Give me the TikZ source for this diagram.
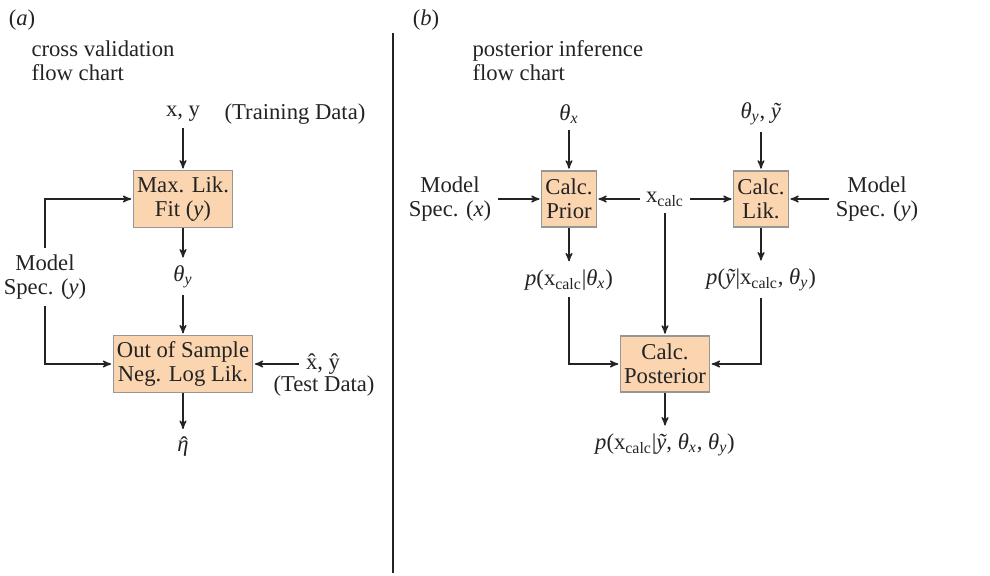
\documentclass[tikz,border=0pt]{standalone}
\usepackage{fontspec}
\setmainfont{Liberation Serif}
\usepackage{tikz}
\usetikzlibrary{arrows,positioning}

\definecolor{boxfill}{RGB}{250,213,176}
\definecolor{boxline}{RGB}{150,150,150}
\definecolor{ink}{RGB}{35,35,35}

\newcommand{\thX}{\textit{θ}\textsubscript{\textit{x}}}
\newcommand{\thY}{\textit{θ}\textsubscript{\textit{y}}}
\newcommand{\ytil}{\textit{ỹ}}
\newcommand{\xcalc}{x\textsubscript{calc}}
\newcommand{\etahat}{\rlap{\hspace{0.13em}\raisebox{-0.1ex}{ˆ}}\textit{η}}

\begin{document}
\begin{tikzpicture}[
		x=0.02cm, y=-0.02cm,
		->,
		>=stealth',
		shorten >=1pt,
		line width=0.75pt,
		color=ink,
		font=\fontsize{12.9}{13.7}\selectfont,
		box/.style={draw=boxline, fill=boxfill, align=center, minimum height=1.12cm, inner xsep=2pt, line width=0.6pt},
		txt/.style={align=center}
	]
	\useasboundingbox (0,0) rectangle (990,575);

	% (a) cross validation
	\node[txt] (la) at (22,20) {(\textit{a})};
	\node[txt, anchor=west, align=left] (ta) at (25,61) {cross validation\\flow chart};

	\node[txt] (xy) 	at (183,114) 	{x, y};
	\node[txt] (trn) 	at (295,114) 	{(Training Data)};
	\node[box, minimum width=1.98cm] (fit) 	at (183,199) 	{Max. Lik.\\Fit (\textit{y})};
	\node[txt] (thy) 	at (183,277) 	{\thY};
	\node[box, minimum width=2.74cm] (oos) 	at (183,364) 	{Out of Sample\\Neg. Log Lik.};
	\node[txt] (eta) 	at (183,447) 	{\etahat};
	\node[txt] (msa) 	at (45,277) 	{Model\\Spec. (\textit{y})};
	\node[txt] (tst) 	at (323,364) 	{\^{x}, \^{y}};
	\node[txt] (tstl) 	at (324,386) 	{(Test Data)};

	\path 	(xy) 	edge 	(fit)
		(fit) 	edge 	(thy)
		(thy) 	edge 	(oos)
		(oos) 	edge 	(eta)
		(tst) 	edge 	(oos);
	\draw (msa) |- (fit);
	\draw (msa) |- (oos);

	% divider
	\draw[-] (393,33) -- (393,575);

	% (b) posterior inference
	\node[txt] (lb) at (426,20) {(\textit{b})};
	\node[txt, anchor=west, align=left] (tb) at (466,61) {posterior inference\\flow chart};

	\node[box, minimum width=0.98cm] (pri) 	at (569,199) 	{Calc.\\Prior};
	\node[box, minimum width=0.98cm] (lik) 	at (761,199) 	{Calc.\\Lik.};
	\node[box, minimum width=1.56cm] (post) at (665,364) 	{Calc.\\Posterior};
	\node[txt] (thx) 	at (569,114) 	{\thX};
	\node[txt] (thyt) 	at (761,114) 	{\thY, \ytil};
	\node[txt] (msx) 	at (450,199) 	{Model\\Spec. (\textit{x})};
	\node[txt] (msy) 	at (877,199) 	{Model\\Spec. (\textit{y})};
	\node[txt] (xc) 	at (665,199) 	{\xcalc};
	\node[txt] (ppri) 	at (569,280) 	{\textit{p}(\xcalc|\thX)};
	\node[txt] (plik) 	at (761,280) 	{\textit{p}(\ytil|\xcalc, \thY)};
	\node[txt] (ppost) 	at (665,445) 	{\textit{p}(\xcalc|\ytil, \thX, \thY)};

	\path 	(thx) 	edge 	(pri)
		(msx) 	edge 	(pri)
		(xc) 	edge 	(pri)
			edge 	(lik)
			edge 	(post)
		(thyt) 	edge 	(lik)
		(msy) 	edge 	(lik)
		(pri) 	edge 	(ppri)
		(lik) 	edge 	(plik)
		(post) 	edge 	(ppost);
	\draw (ppri) |- (post);
	\draw (plik) |- (post);

\end{tikzpicture}
\end{document}
